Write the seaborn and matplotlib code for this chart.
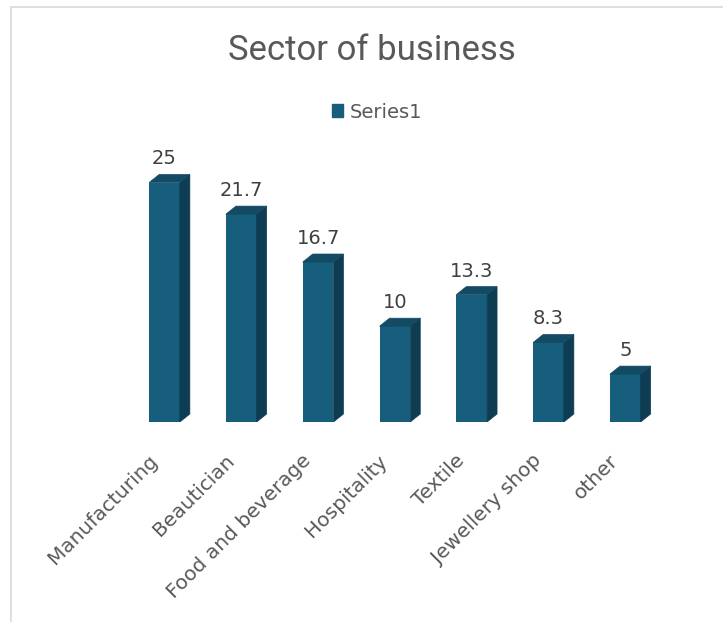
import matplotlib
matplotlib.use("Agg")
import matplotlib.pyplot as plt
import matplotlib.transforms as mtransforms
from matplotlib.patches import Polygon, Rectangle, Patch
import seaborn as sns
import pandas as pd

categories = ["Manufacturing", "Beautician", "Food and beverage", "Hospitality",
              "Textile", "Jewellery shop", "other"]
values = [25, 21.7, 16.7, 10, 13.3, 8.3, 5]
value_labels = ["25", "21.7", "16.7", "10", "13.3", "8.3", "5"]
series_name = "Series1"
title = "Sector of business"

FRONT = "#175D7C"
SIDE = "#0E3D53"
TOP = "#134A64"
TEXT = "#595959"
LABEL = "#404040"

sns.set_theme(style="white")
plt.rcParams["font.family"] = ["DejaVu Sans"]

W, H = 723, 622
fig = plt.figure(figsize=(W / 100, H / 100), dpi=100)

# chart frame
fig.patches.append(Rectangle((11 / W, -0.1), 1.2, 1 - 7 / H + 0.1,
                             transform=fig.transFigure, fill=False,
                             edgecolor="#d9d9d9", linewidth=1.2))

# plot area: category centres spaced ~76.8 px, baseline at y=422 px
left = (164.5 - 0.5 * 76.8) / W
width = 7 * 76.8 / W
bottom = (H - 422) / H
height = 30 * 9.58 / H
ax = fig.add_axes([left, bottom, width, height])

df = pd.DataFrame({"sector": categories, "pct": values})
sns.barplot(data=df, x="sector", y="pct", color=FRONT, width=0.40,
            saturation=1, linewidth=0, ax=ax, zorder=3)
ax.set_xlim(-0.5, 6.5)
ax.set_ylim(0, 30)

# 3D depth offsets in data units (about 10 px across, 8 px up)
dx = 10 / 76.8
dy = 8 / 9.58
for bar, lab in zip(ax.patches, value_labels):
    x0 = bar.get_x()
    x1 = x0 + bar.get_width()
    h = bar.get_height()
    side = Polygon([(x1, 0), (x1 + dx, dy), (x1 + dx, h + dy), (x1, h)],
                   closed=True, facecolor=SIDE, edgecolor=SIDE, lw=0.5, zorder=3)
    top = Polygon([(x0, h), (x0 + dx, h + dy), (x1 + dx, h + dy), (x1, h)],
                  closed=True, facecolor=TOP, edgecolor=TOP, lw=0.5, zorder=3)
    ax.add_patch(side)
    ax.add_patch(top)
    ax.text(x0 + bar.get_width() / 2, h + dy + 1.05, lab,
            ha="center", va="baseline", fontsize=14, color=LABEL)

for s in ax.spines.values():
    s.set_visible(False)
ax.set_yticks([])
ax.set_xlabel("")
ax.set_ylabel("")
ax.tick_params(axis="x", length=0, pad=21, colors=TEXT)
shift = mtransforms.ScaledTranslation(-17 / 100, 0, fig.dpi_scale_trans)
for t in ax.get_xticklabels():
    t.set_rotation(45)
    t.set_ha("right")
    t.set_va("top")
    t.set_rotation_mode("anchor")
    t.set_fontsize(14.5)
    t.set_color(TEXT)
    t.set_transform(t.get_transform() + shift)

fig.text(372 / W, 1 - 51 / H, title, ha="center", va="center",
         fontsize=25, color=TEXT, family=["Roboto", "DejaVu Sans"])

fig.legend(handles=[Patch(facecolor=FRONT, edgecolor=FRONT, label=series_name)],
           loc="center", bbox_to_anchor=(377 / W, 1 - 112 / H), frameon=False,
           fontsize=14, labelcolor=TEXT, handlelength=0.6, handleheight=0.6,
           handletextpad=0.35)

fig.savefig("out.png", dpi=100)
